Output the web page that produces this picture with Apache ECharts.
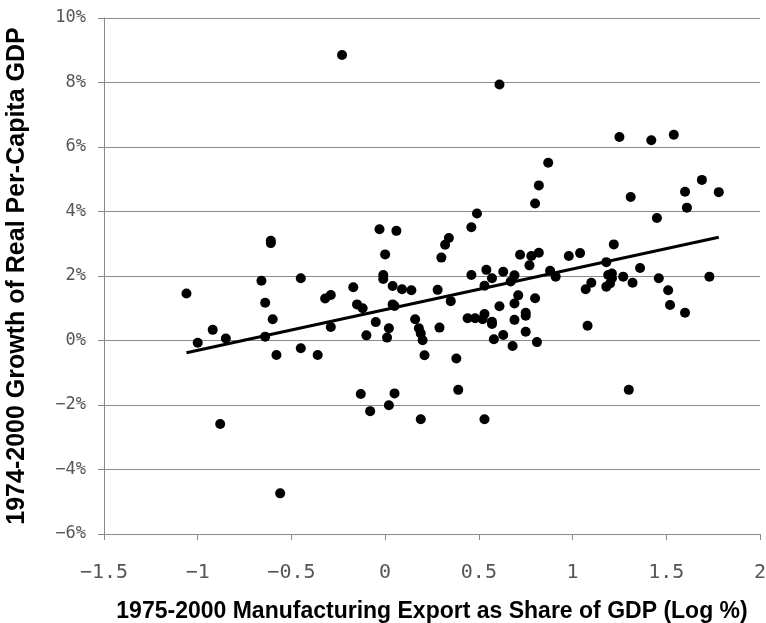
<!DOCTYPE html>
<html>
<head>
<meta charset="utf-8">
<script src="https://cdn.jsdelivr.net/npm/echarts@6/dist/echarts.min.js"></script>
<style>
  html, body { margin: 0; padding: 0; background: #fff; }
  #chart { width: 766px; height: 623px; }
</style>
</head>
<body>
<div id="chart"></div>
<script>
// Log manufacturing export share of GDP (1975-2000), one entry per country
const exportShare = [
  -1.06, -1.00, -0.92, -0.85, -0.88, -0.66, -0.64, -0.60, -0.64, -0.58,
  -0.56, -0.45, -0.45, -0.36, -0.32, -0.29, -0.29, -0.17, -0.15, -0.12,
  -0.05, -0.10, -0.13, -0.08, -0.01, -0.01, 0.04, 0.09, 0.14, 0.04,
  0.05, 0.02, 0.01, 0.05, 0.02, 0.16, 0.18, 0.19, 0.20, 0.21,
  0.19, -0.23, -0.61, -0.61, -0.03, 0.06, 0.00, 0.61, 1.25, 1.42,
  1.54, 0.87, 0.82, 0.80, 1.31, 1.69, 1.60, 1.78, 1.61, 1.45,
  0.49, 0.46, 0.34, 0.32, 0.30, 1.22, 0.72, 0.78, 0.82, 0.77,
  0.98, 1.04, 1.18, 1.36, 0.46, 0.54, 0.63, 0.69, 0.88, 0.57,
  0.67, 0.53, 0.91, 0.28, 0.35, 0.71, 0.69, 0.80, 0.61, 0.44,
  0.48, 0.52, 0.53, 0.57, 0.57, 0.69, 0.75, 0.75, 0.75, 0.63,
  0.58, 0.68, 0.81, 0.29, 0.38, 0.39, 0.53, 1.07, 1.10, 1.08,
  1.18, 1.19, 1.21, 1.21, 1.20, 1.27, 1.32, 1.46, 1.51, 1.52,
  1.60, 1.73, 1.30
];

// Average annual growth of real per-capita GDP, 1974-2000 (%)
const gdpGrowth = [
  1.46, -0.07, 0.33, 0.06, -2.59, 1.85, 1.17, 0.66, 0.12, -0.45,
  -4.74, 1.93, -0.24, -0.45, 1.30, 1.41, 0.42, 1.65, 1.12, 1.00,
  0.57, 0.16, -1.66, -2.19, 2.03, 1.91, 1.69, 1.59, 1.56, 1.12,
  1.07, 0.38, 0.09, -1.64, -2.01, 0.66, 0.38, 0.22, 0.01, -0.46,
  -2.44, 8.85, 3.09, 3.02, 3.45, 3.40, 2.67, 7.94, 6.31, 6.21,
  6.38, 5.51, 4.81, 4.25, 4.45, 4.98, 4.61, 4.60, 4.12, 3.80,
  3.94, 3.51, 3.18, 2.97, 2.57, 2.98, 2.66, 2.62, 2.72, 2.33,
  2.62, 2.71, 2.43, 2.25, 2.03, 2.19, 2.13, 2.02, 2.16, 1.93,
  1.83, 1.70, 1.98, 1.57, 1.22, 1.40, 1.15, 1.31, 1.06, 0.69,
  0.69, 0.66, 0.82, 0.58, 0.51, 0.64, 0.86, 0.77, 0.27, 0.17,
  0.04, -0.17, -0.05, 0.40, -0.56, -1.53, -2.44, 1.59, 1.79, 0.46,
  1.67, 2.03, 2.08, 1.93, 1.77, 1.98, 1.79, 1.93, 1.56, 1.10,
  0.86, 1.98, -1.53
];

// Fitted trend line end points
const trendX = [-1.06, 1.78];
const trendY = [-0.38, 3.20];

// Axis ticks
const xTicks = [-1.5, -1, -0.5, 0, 0.5, 1, 1.5, 2];
const yTicks = [-6, -4, -2, 0, 2, 4, 6, 8, 10];

const minus = v => (v < 0 ? '\u2212' + Math.abs(v) : String(v));

const points = exportShare.map((x, i) => [x, gdpGrowth[i]]);
const trend = trendX.map((x, i) => [x, trendY[i]]);

const chart = echarts.init(document.getElementById('chart'), null, { renderer: 'canvas' });
chart.setOption({
  animation: false,
  backgroundColor: '#ffffff',
  grid: { left: 104, right: 6, top: 18, bottom: 89, containLabel: false, outerBoundsMode: 'none' },
  xAxis: {
    type: 'value',
    min: xTicks[0],
    max: xTicks[xTicks.length - 1],
    interval: 0.5,
    name: '1975-2000 Manufacturing Export as Share of GDP (Log %)',
    nameLocation: 'middle',
    nameGap: 66,
    nameTextStyle: {
      fontFamily: 'Liberation Sans, Arial, sans-serif',
      fontWeight: 'bold',
      fontSize: 23,
      color: '#000'
    },
    axisLine: { show: true, onZero: false, lineStyle: { color: '#8a8a8a', width: 1 } },
    axisTick: { show: true, length: 6, lineStyle: { color: '#8a8a8a' } },
    axisLabel: {
      margin: 29,
      fontFamily: 'DejaVu Sans Mono, monospace',
      fontSize: 20,
      color: '#555',
      formatter: v => minus(v)
    },
    splitLine: { show: false }
  },
  yAxis: {
    type: 'value',
    min: yTicks[0],
    max: yTicks[yTicks.length - 1],
    interval: 2,
    name: '1974-2000 Growth of Real Per-Capita GDP',
    nameLocation: 'middle',
    nameGap: 74,
    nameTextStyle: {
      fontFamily: 'Liberation Sans, Arial, sans-serif',
      fontWeight: 'bold',
      fontSize: 25,
      color: '#000'
    },
    axisLine: { show: true, onZero: false, lineStyle: { color: '#8a8a8a', width: 1 } },
    axisTick: { show: true, length: 6, lineStyle: { color: '#8a8a8a' } },
    axisLabel: {
      margin: 18,
      fontFamily: 'DejaVu Sans Mono, monospace',
      fontSize: 17,
      color: '#555',
      formatter: v => minus(v) + '%'
    },
    splitLine: { show: true, lineStyle: { color: '#8a8a8a', width: 1 } }
  },
  series: [
    {
      type: 'scatter',
      data: points,
      symbol: 'circle',
      symbolSize: 10,
      itemStyle: { color: '#000', opacity: 1 },
      z: 3
    },
    {
      type: 'line',
      data: trend,
      symbol: 'none',
      lineStyle: { color: '#000', width: 3 },
      z: 4
    }
  ]
});
</script>
</body>
</html>
